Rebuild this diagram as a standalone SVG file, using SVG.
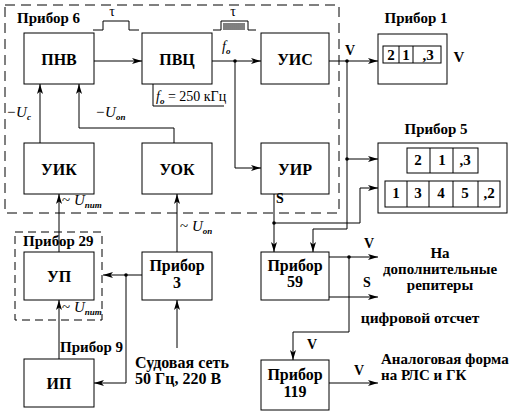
<svg xmlns="http://www.w3.org/2000/svg" width="513" height="414" viewBox="0 0 513 414">
<defs>
<marker id="ar" viewBox="0 0 10 6" refX="10" refY="3" markerWidth="10" markerHeight="6" markerUnits="userSpaceOnUse" orient="auto">
<path d="M0,0 L10,3 L0,6 L2.5,3 z" fill="#000"/>
</marker>
<style>
.b{fill:#fff;stroke:#000;stroke-width:1}
.c{fill:none;stroke:#000;stroke-width:1}
.a{fill:none;stroke:#000;stroke-width:1;marker-end:url(#ar)}
.d{fill:none;stroke:#000;stroke-width:1;stroke-dasharray:10,6}
.n{font-weight:bold;text-anchor:middle}
.i{font-style:italic}
.s{font-style:italic;font-weight:bold;font-size:9px}
</style>
</defs>
<g font-family="'Liberation Serif', 'DejaVu Serif', serif" fill="#000">
<g id="pribor6">
<rect class="d" x="5" y="5" width="334" height="208"/>
<text class="n" x="17" y="23" font-size="15" style="text-anchor:start">Прибор 6</text>
</g>
<g id="pribor29">
<rect class="d" x="15" y="232" width="87" height="88" style="stroke-dasharray:8,5"/>
<text class="n" x="23" y="246" font-size="15" style="text-anchor:start">Прибор 29</text>
</g>
<g id="pulses">
<path class="c" d="M93,30 H103 V21 H129 V30 H139"/>
<text x="112" y="16" font-size="14" text-anchor="middle" fill="#000">τ</text>
<path class="c" d="M213,30 H221 V21 H248 V30 H256"/>
<path class="c" d="M224,23 V30 M226,23 V30 M228,23 V30 M230,23 V30 M232,23 V30 M234,23 V30 M236,23 V30 M238,23 V30 M240,23 V30 M242,23 V30 M244,23 V30"/>
<text x="233" y="16" font-size="14" text-anchor="middle" fill="#000">τ</text>
</g>
<g id="pnv"><rect class="b" x="24" y="33" width="70" height="51"/><text class="n" x="59" y="65" font-size="16">ПНВ</text></g>
<g id="pvc"><rect class="b" x="142" y="33" width="70" height="51"/><text class="n" x="177" y="65" font-size="16">ПВЦ</text>
<path class="c" d="M153,84 V106 H224"/>
<text class="i" x="156" y="101" font-size="14">f<tspan class="s" dy="3">o</tspan><tspan dy="-3" style="font-style:normal"> = 250 кГц</tspan></text></g>
<g id="uis"><rect class="b" x="261" y="33" width="68" height="51"/><text class="n" x="295" y="65" font-size="16">УИС</text></g>
<g id="uik"><rect class="b" x="24" y="143" width="70" height="51"/><text class="n" x="59" y="175" font-size="16">УИК</text></g>
<g id="uok"><rect class="b" x="142" y="143" width="70" height="51"/><text class="n" x="177" y="175" font-size="16">УОК</text></g>
<g id="uir"><rect class="b" x="261" y="143" width="68" height="51"/><text class="n" x="295" y="175" font-size="16">УИР</text></g>
<g id="pribor1">
<text class="n" x="416" y="23" font-size="15">Прибор 1</text>
<rect class="b" x="378" y="34" width="69" height="50"/>
<rect class="b" x="383" y="46" width="58" height="17"/>
<path class="c" d="M399,46 V63 M413,46 V63"/>
<text class="n" x="391" y="60" font-size="15">2</text><text class="n" x="406" y="60" font-size="15">1</text><text class="n" x="428" y="60" font-size="15">,3</text>
<text class="n" x="459" y="62" font-size="15">V</text>
</g>
<g id="pribor5">
<text class="n" x="436" y="134" font-size="15">Прибор 5</text>
<rect class="b" x="378" y="143" width="129" height="70"/>
<rect class="b" x="407" y="148" width="71" height="25"/>
<path class="c" d="M430,148 V173 M453,148 V173"/>
<text class="n" x="418" y="165" font-size="15">2</text><text class="n" x="442" y="165" font-size="15">1</text><text class="n" x="465" y="165" font-size="15">,3</text>
<rect class="b" x="385" y="181" width="115" height="26"/>
<path class="c" d="M407,181 V207 M429,181 V207 M453,181 V207 M478,181 V207"/>
<text class="n" x="396" y="198" font-size="15">1</text><text class="n" x="418" y="198" font-size="15">3</text><text class="n" x="441" y="198" font-size="15">4</text><text class="n" x="465" y="198" font-size="15">5</text><text class="n" x="489" y="198" font-size="15">,2</text>
</g>
<g id="up"><rect class="b" x="24" y="252" width="70" height="48"/><text class="n" x="59" y="282" font-size="16">УП</text></g>
<g id="pribor3"><rect class="b" x="142" y="252" width="70" height="48"/><text class="n" x="177" y="271" font-size="16">Прибор</text><text class="n" x="177" y="288" font-size="16">3</text></g>
<g id="pribor59"><rect class="b" x="261" y="252" width="68" height="48"/><text class="n" x="295" y="271" font-size="16">Прибор</text><text class="n" x="295" y="287" font-size="16">59</text></g>
<g id="ip"><rect class="b" x="24" y="359" width="70" height="48"/><text class="n" x="59" y="389" font-size="16">ИП</text>
<text class="n" x="60" y="352" font-size="15" style="text-anchor:start">Прибор 9</text></g>
<g id="pribor119"><rect class="b" x="261" y="360" width="68" height="50"/><text class="n" x="295" y="380" font-size="16">Прибор</text><text class="n" x="295" y="397" font-size="16">119</text></g>
<g id="connectors">
<path class="a" d="M94,61 H142"/>
<path class="a" d="M212,61 H261"/>
<path class="a" d="M235,61 V168 H261"/>
<path class="a" d="M40,143 V84"/>
<path class="a" d="M174,143 V128 H79 V84"/>
<path class="a" d="M329,61 H378"/>
<path class="a" d="M347,61 V229 H313 V252"/>
<path class="a" d="M347,159 H378"/>
<path class="a" d="M274,194 V252"/>
<path class="a" d="M274,223 H360 V188 H378"/>
<path class="a" d="M329,257 H378"/>
<path class="a" d="M329,297 H378"/>
<path class="a" d="M349,257 V332 H293 V360"/>
<path class="a" d="M329,383 H378"/>
<path class="a" d="M59,252 V194"/>
<path class="a" d="M59,359 V300"/>
<path class="a" d="M177,252 V194"/>
<path class="a" d="M142,275 H103"/>
<path class="a" d="M126,275 V383 H94"/>
<path class="a" d="M177,348 V300"/>
<g fill="#000"><circle cx="235" cy="61" r="1.8"/><circle cx="347" cy="61" r="1.8"/><circle cx="347" cy="159" r="1.8"/><circle cx="274" cy="223" r="1.8"/><circle cx="349" cy="257" r="1.8"/><circle cx="126" cy="275" r="1.8"/></g>
</g>
<g id="labels">
<text class="i" x="222" y="51" font-size="14">f<tspan class="s" dy="3">o</tspan></text>
<text class="n" x="350" y="55" font-size="14">V</text>
<text class="n" x="280" y="203" font-size="14">S</text>
<text class="i" x="6" y="117" font-size="15">−U<tspan class="s" dy="3">c</tspan></text>
<text class="i" x="95" y="117" font-size="15">−U<tspan class="s" dy="3">оп</tspan></text>
<text class="i" x="62" y="205" font-size="15"><tspan style="font-style:normal">~ </tspan>U<tspan class="s" dy="3">пит</tspan></text>
<text class="i" x="180" y="231" font-size="15"><tspan style="font-style:normal">~ </tspan>U<tspan class="s" dy="3">оп</tspan></text>
<text class="i" x="62" y="312" font-size="15"><tspan style="font-style:normal">~ </tspan>U<tspan class="s" dy="3">пит</tspan></text>
<text class="n" x="135" y="368" font-size="16" style="text-anchor:start">Судовая сеть</text>
<text class="n" x="135" y="384" font-size="16" style="text-anchor:start">50 Гц, 220 В</text>
<text class="n" x="369" y="248" font-size="14">V</text>
<text class="n" x="367" y="287" font-size="14">S</text>
<text class="n" x="440" y="258" font-size="15">На</text>
<text class="n" x="440" y="274" font-size="15">дополнительные</text>
<text class="n" x="440" y="290" font-size="15">репитеры</text>
<text class="n" x="420" y="323" font-size="15.5">цифровой отсчет</text>
<text class="n" x="307" y="349" font-size="14" style="text-anchor:start">V</text>
<text class="n" x="359" y="375" font-size="14">V</text>
<text class="n" x="381" y="364" font-size="15" style="text-anchor:start">Аналоговая форма</text>
<text class="n" x="381" y="380" font-size="15" style="text-anchor:start">на РЛС и ГК</text>
</g>
</g>
</svg>
